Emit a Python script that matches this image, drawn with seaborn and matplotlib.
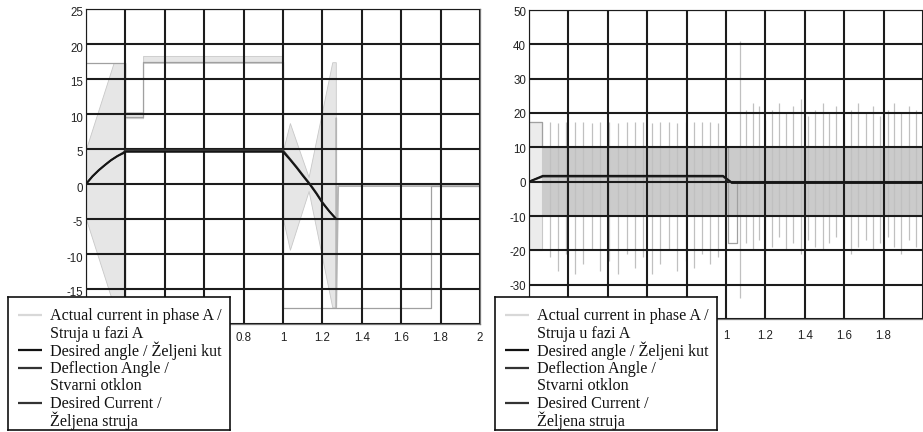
import numpy as np
import pandas as pd
import matplotlib
matplotlib.use("Agg")
import matplotlib.pyplot as plt
import seaborn as sns
from matplotlib.transforms import ScaledTranslation

# ---------------- data: left panel ----------------
L_angle_t = [0, 0.033, 0.066, 0.1, 0.127, 0.16, 0.19, 0.2, 1.0, 1.035, 1.07, 1.1,
             1.137, 1.17, 1.2, 1.235, 1.27, 2.0]
L_angle_desired = [0, 1.1, 2.0, 2.8, 3.4, 4.0, 4.4, 4.6, 4.6, 3.5, 2.3, 1.2,
                   -0.1, -1.4, -2.7, -3.9, -5.0, -5.0]
L_angle_deflection = [0, 1.1, 2.0, 2.8, 3.4, 4.0, 4.5, 4.8, 4.8, 3.6, 2.4, 1.3,
                      0.0, -1.3, -2.6, -3.9, -5.0, -5.0]

L_cur_des_t = [0, 0.2, 0.2, 0.29, 0.29, 1.0, 1.0, 1.75, 1.75, 2.0]
L_cur_des = [17.3, 17.3, 9.6, 9.6, 17.4, 17.4, -17.7, -17.7, -0.3, -0.3]

# envelope of the fast oscillating phase current
L_act_t = [0.0, 0.14, 0.2, 0.2, 0.29, 0.29, 1.0, 1.0, 1.035, 1.13, 1.25, 1.268]
L_act_hi = [5.0, 17.3, 17.3, 10.3, 10.3, 18.3, 18.3, 4.8, 8.7, 1.0, 17.4, 17.4]
L_act_lo = [-5.0, -17.3, -17.3, 9.4, 9.4, 17.3, 17.3, -5.0, -9.4, -1.0, -17.6, -17.6]
L_act_line_t = [1.27, 1.27, 1.28, 2.0]
L_act_line = [9.4, -17.6, -0.3, -0.3]

L_yticks = [-20, -15, -10, -5, 0, 5, 10, 15, 20, 25]
L_ylabels = ["", "-15", "-10", "-5", "0", "5", "10", "15", "20", "25"]
L_xticks = [0, 0.2, 0.4, 0.6, 0.8, 1.0, 1.2, 1.4, 1.6, 1.8, 2.0]
L_xlabels = ["", "", "", "", "0.8", "1", "1.2", "1.4", "1.6", "1.8", "2"]

# ---------------- data: right panel ----------------
R_angle_t = [0, 0.07, 0.985, 1.03, 2.0]
R_angle_desired = [0, 1.7, 1.7, -0.3, -0.3]
R_angle_deflection = [0, 1.5, 1.5, -0.4, -0.4]

R_cur_des_t = [0, 0.065, 0.065, 1.01, 1.01, 1.055, 1.055, 2.0]
R_cur_des = [17.3, 17.3, 10, 10, -18, -18, 0, 0]

R_start_t = [0, 0.065]
R_start_hi = [17.3, 17.3]
R_start_lo = [-20, -20]
R_band_t = [0.065, 2.0]
R_band_hi = [10, 10]
R_band_lo = [-10, -10]

R_spike_t = [0.105, 0.147, 0.188, 0.232, 0.274, 0.318, 0.36, 0.405, 0.45, 0.495,
             0.54, 0.58, 0.625, 0.665, 0.71, 0.752, 0.795, 0.838, 0.878, 0.919, 0.959,
             1.07, 1.1, 1.135, 1.165, 1.2, 1.235, 1.27, 1.305, 1.34, 1.38, 1.415,
             1.45, 1.49, 1.525, 1.56, 1.6, 1.635, 1.67, 1.71, 1.745, 1.78, 1.82,
             1.855, 1.89, 1.93, 1.965]
R_spike_hi = [17.5, 17, 17.5, 17.3, 17.5, 17, 17.4, 17.5, 17.2, 17.5, 17.3, 17.5,
              17, 17.4, 17.5, 17.2, 17.5, 17.3, 17.5, 17.4, 17.2,
              41, 21, 23, 22, 18, 21, 23, 20, 22, 24, 19, 21, 23, 20, 22, 18, 21,
              23, 20, 22, 19, 21, 23, 20, 22, 21]
R_spike_lo = [-22, -26, -21, -27, -24, -20, -26, -23, -27, -21, -25, -22, -27,
              -24, -20, -26, -23, -25, -21, -24, -22,
              -34, -18, -20, -17, -21, -19, -16, -20, -18, -21, -17, -19, -20,
              -18, -16, -18, -21, -19, -17, -20, -18, -16, -19, -21, -17, -19]

R_yticks = [-40, -30, -20, -10, 0, 10, 20, 30, 40, 50]
R_ylabels = ["", "-30", "-20", "-10", "0", "10", "20", "30", "40", "50"]
R_xticks = [0, 0.2, 0.4, 0.6, 0.8, 1.0, 1.2, 1.4, 1.6, 1.8, 2.0]
R_xlabels = ["", "", "", "", "", "1", "1.2", "1.4", "1.6", "1.8", ""]

series_labels = ["Actual current in phase A /\nStruja u fazi A",
                 "Desired angle / Željeni kut",
                 "Deflection Angle /\nStvarni otklon",
                 "Desired Current /\nŽeljena struja"]

# ---------------- styling ----------------
sns.set_style("white")
plt.rcParams['font.family'] = ['Liberation Sans', 'DejaVu Sans']
plt.rcParams['axes.unicode_minus'] = False

C_ACT = '#e6e6e6'
C_ACT_EDGE = '#c8c8c8'
C_DES_ANG = '#151515'
C_DEFL = '#3a3a3a'
C_DES_CUR = '#a0a0a0'
legend_colors = ['#d8d8d8', '#111111', '#333333', '#333333']
GRID = '#1c1c1c'

W, H = 923, 432
fig = plt.figure(figsize=(W / 100, H / 100), dpi=100)


def px_axes(x0, y0, x1, y1):
    return fig.add_axes([x0 / W, 1 - y1 / H, (x1 - x0) / W, (y1 - y0) / H])


def line(ax, x, y, color, lw, z):
    df = pd.DataFrame({'t': x, 'v': y})
    sns.lineplot(data=df, x='t', y='v', ax=ax, estimator=None, sort=False,
                 color=color, lw=lw, legend=False, zorder=z)


def style_axes(ax, ylim, yticks, ylabels, xticks, xlabels, ydy, xpad):
    ax.set_xlim(0, 2)
    ax.set_ylim(*ylim)
    ax.set_xticks(xticks)
    ax.set_xticklabels(xlabels)
    ax.set_yticks(yticks)
    ax.set_yticklabels(ylabels)
    ax.set_xlabel('')
    ax.set_ylabel('')
    ax.grid(True, color=GRID, lw=1.5)
    ax.set_axisbelow(False)
    for s in ax.spines.values():
        s.set_color('#777777')
        s.set_linewidth(0.9)
    ax.tick_params(axis='both', length=0, labelsize=8.3, colors='#222222')
    ax.tick_params(axis='y', pad=2)
    ax.tick_params(axis='x', pad=xpad)
    for lbl in ax.get_yticklabels():
        lbl.set_transform(lbl.get_transform() +
                          ScaledTranslation(0, -ydy / 100, fig.dpi_scale_trans))


# ---------------- left panel ----------------
axL = px_axes(86, 9, 480, 324)
axL.fill_between(L_act_t, L_act_lo, L_act_hi, color=C_ACT, lw=0.6,
                 edgecolor=C_ACT_EDGE, zorder=1)
line(axL, L_act_line_t, L_act_line, '#b4b4b4', 1.3, 1.5)
line(axL, L_cur_des_t, L_cur_des, C_DES_CUR, 0.9, 1.6)
line(axL, L_angle_t, L_angle_deflection, C_DEFL, 1.4, 3)
line(axL, L_angle_t, L_angle_desired, C_DES_ANG, 1.4, 3.1)
style_axes(axL, (-20, 25), L_yticks, L_ylabels, L_xticks, L_xlabels, 3, 6)

# ---------------- right panel ----------------
axR = px_axes(529, 10, 923, 319)
axR.fill_between(R_start_t, R_start_lo, R_start_hi, color='#ececec', lw=0.8,
                 edgecolor='#c8c8c8', zorder=1)
axR.fill_between(R_band_t, R_band_lo, R_band_hi, color='#cbcbcb', lw=0, zorder=1)
axR.vlines(R_spike_t, R_spike_lo, R_spike_hi, color='#c0c0c0', lw=0.9, zorder=1.2)
line(axR, R_cur_des_t, R_cur_des, C_DES_CUR, 0.9, 1.6)
line(axR, R_angle_t, R_angle_deflection, C_DEFL, 1.4, 3)
line(axR, R_angle_t, R_angle_desired, C_DES_ANG, 1.4, 3.1)
style_axes(axR, (-40, 50), R_yticks, R_ylabels, R_xticks, R_xlabels, 1, 8)
axR.spines['right'].set_visible(False)


# ---------------- legends (drawn over the axes) ----------------
def draw_legend(x0, y0, x1, y1):
    lax = px_axes(x0, y0, x1, y1)
    lax.set_xlim(0, x1 - x0)
    lax.set_ylim(y1 - y0, 0)
    lax.set_xticks([])
    lax.set_yticks([])
    lax.set_facecolor('white')
    for s in lax.spines.values():
        s.set_color('#111111')
        s.set_linewidth(1.2)
    y = 18.0
    for label, col in zip(series_labels, legend_colors):
        lax.plot([10, 34], [y, y], color=col, lw=1.6, solid_capstyle='butt')
        for ln in label.split('\n'):
            lax.text(42, y + 5.5, ln, va='baseline', ha='left', fontsize=11.6,
                     family=['Liberation Serif', 'DejaVu Serif'], color='#111111')
            y += 17.5


draw_legend(8, 297, 230, 430)
draw_legend(495, 297, 717, 430)

fig.savefig('out.png', dpi=100)
